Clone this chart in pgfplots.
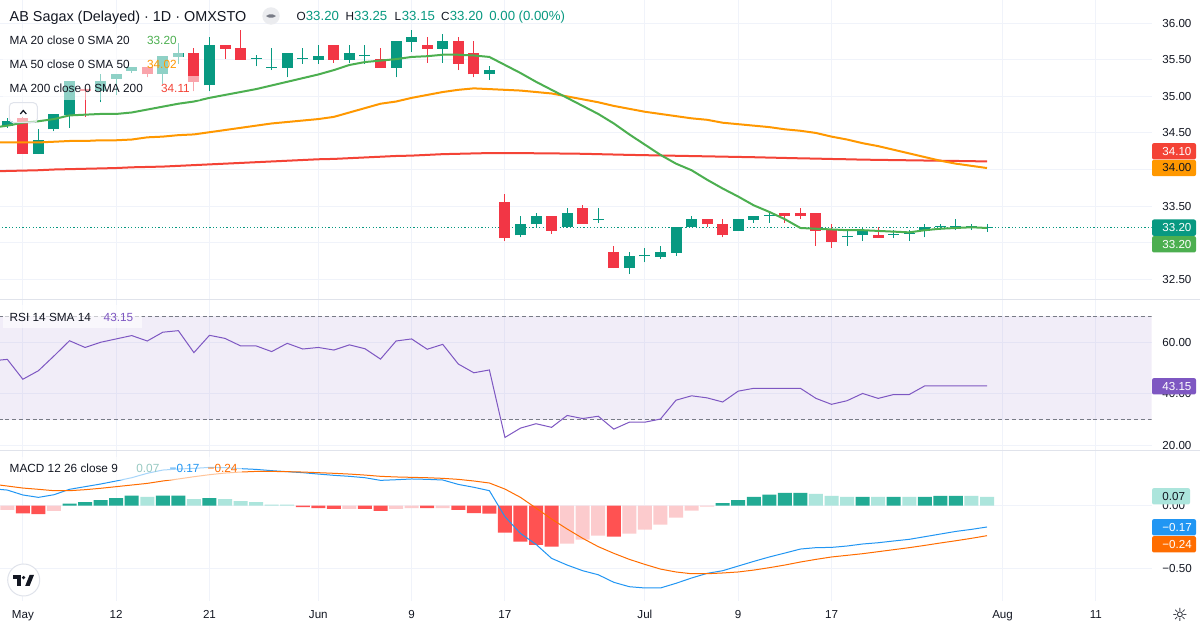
\documentclass[border=0pt]{standalone}
\usepackage{fontspec}
\setmainfont{Liberation Sans}
\newfontfamily\symfont{DejaVu Sans}
\usepackage{pgfplots}
\usepackage{pgfplotstable}
\pgfplotsset{compat=1.18}

\definecolor{tvup}{HTML}{089981}
\definecolor{tvdown}{HTML}{F23645}
\definecolor{cma20}{HTML}{4CAF50}
\definecolor{cma50}{HTML}{FF9800}
\definecolor{cma200}{HTML}{F44336}
\definecolor{crsi}{HTML}{7E57C2}
\definecolor{cmacd}{HTML}{2196F3}
\definecolor{csig}{HTML}{FF6D00}
\definecolor{hup}{HTML}{22AB94}
\definecolor{hupl}{HTML}{ACE5DC}
\definecolor{hdn}{HTML}{FF5252}
\definecolor{hdnl}{HTML}{FCCBCD}
\definecolor{gridc}{HTML}{F0F3FA}
\definecolor{sepc}{HTML}{E0E3EB}
\definecolor{txt}{HTML}{131722}
\definecolor{lvl}{HTML}{787B86}
\definecolor{btn}{HTML}{EBECEF}

\newcommand{\axf}{\fontsize{5.8}{7}\selectfont}
\newcommand{\lgf}{\fontsize{5.9}{7}\selectfont}
\newcommand{\ttf}{\fontsize{7.2}{8.6}\selectfont}
\newcommand{\hdf}{\fontsize{6.6}{8}\selectfont}
\newcommand{\hlf}{\fontsize{5.9}{8}\selectfont}

% candles: j o h l c
\pgfplotstableread{
j o h l c
0 34.60 34.70 34.57 34.66
2 34.21 34.55 34.21 34.41
3 34.55 34.76 34.52 34.76
4 34.75 35.21 34.57 35.21
6 35.07 35.30 34.92 35.21
7 35.24 35.31 35.02 35.31
8 35.35 35.40 35.32 35.40
10 35.30 35.55 35.17 35.55
11 35.54 35.73 35.45 35.60
13 35.15 35.81 35.07 35.70
16 35.51 35.57 35.41 35.51
17 35.39 35.66 35.36 35.39
18 35.39 35.60 35.26 35.60
19 35.51 35.66 35.45 35.51
20 35.50 35.70 35.45 35.55
22 35.50 35.70 35.46 35.60
23 35.55 35.70 35.45 35.55
25 35.39 35.76 35.26 35.76
26 35.75 35.91 35.61 35.81
28 35.65 35.85 35.46 35.76
31 35.30 35.41 35.23 35.36
33 33.10 33.37 33.07 33.26
34 33.25 33.41 33.22 33.37
36 33.22 33.47 33.22 33.41
38 33.31 33.47 33.27 33.31
40 32.65 32.87 32.57 32.81
41 32.81 32.92 32.73 32.81
42 32.80 32.96 32.78 32.87
43 32.86 33.22 32.82 33.22
44 33.21 33.37 33.21 33.32
47 33.16 33.32 33.16 33.32
48 33.31 33.37 33.27 33.37
49 33.37 33.41 33.27 33.37
54 33.07 33.17 32.96 33.07
55 33.10 33.22 33.02 33.17
57 33.11 33.17 33.06 33.11
58 33.12 33.17 33.02 33.12
59 33.16 33.26 33.07 33.22
60 33.22 33.26 33.17 33.22
61 33.21 33.32 33.17 33.21
62 33.22 33.26 33.17 33.22
63 33.20 33.25 33.15 33.20
}\upc

\pgfplotstableread{
j o h l c
1 34.70 34.72 34.21 34.21
5 35.10 35.11 34.72 35.07
9 35.40 35.40 35.26 35.30
12 35.60 35.66 35.07 35.20
14 35.70 35.70 35.51 35.65
15 35.66 35.91 35.50 35.50
21 35.70 35.70 35.46 35.50
24 35.51 35.66 35.39 35.39
27 35.70 35.81 35.46 35.65
29 35.76 35.81 35.36 35.45
30 35.60 35.76 35.26 35.30
32 33.56 33.66 33.02 33.06
35 33.37 33.37 33.12 33.16
37 33.47 33.51 33.26 33.26
39 32.87 32.96 32.65 32.65
45 33.32 33.32 33.22 33.25
46 33.26 33.32 33.07 33.10
50 33.41 33.41 33.27 33.36
51 33.41 33.47 33.32 33.36
52 33.41 33.41 32.96 33.16
53 33.17 33.26 32.93 33.01
56 33.11 33.22 33.06 33.06
}\dnc

% moving averages
\pgfplotstableread{
j s20 s50 s200
-1 34.57 34.37 33.975
0 34.60 34.37 33.98
1 34.64 34.37 33.985
2 34.66 34.37 33.99
3 34.69 34.38 34.00
4 34.74 34.39 34.005
5 34.75 34.39 34.01
6 34.76 34.40 34.015
7 34.76 34.40 34.02
8 34.78 34.41 34.03
9 34.82 34.44 34.035
10 34.86 34.45 34.04
11 34.90 34.47 34.05
12 34.93 34.48 34.06
13 34.98 34.51 34.07
14 35.02 34.54 34.08
15 35.06 34.57 34.09
16 35.10 34.60 34.10
17 35.15 34.63 34.11
18 35.20 34.65 34.12
19 35.25 34.67 34.13
20 35.30 34.69 34.14
21 35.36 34.72 34.145
22 35.43 34.78 34.155
23 35.47 34.84 34.165
24 35.49 34.90 34.175
25 35.51 34.93 34.185
26 35.54 34.98 34.19
27 35.55 35.02 34.20
28 35.57 35.06 34.21
29 35.57 35.09 34.215
30 35.56 35.11 34.22
31 35.54 35.10 34.225
32 35.43 35.09 34.225
33 35.32 35.08 34.225
34 35.20 35.06 34.222
35 35.09 35.04 34.22
36 34.98 35.00 34.218
37 34.87 34.96 34.215
38 34.76 34.92 34.21
39 34.63 34.87 34.205
40 34.48 34.83 34.20
41 34.34 34.79 34.196
42 34.20 34.76 34.192
43 34.08 34.73 34.188
44 33.99 34.70 34.184
45 33.86 34.68 34.18
46 33.74 34.64 34.176
47 33.63 34.62 34.172
48 33.51 34.60 34.168
49 33.42 34.58 34.163
50 33.32 34.55 34.158
51 33.20 34.53 34.153
52 33.19 34.50 34.149
53 33.18 34.45 34.144
54 33.17 34.41 34.14
55 33.17 34.36 34.135
56 33.16 34.32 34.132
57 33.15 34.27 34.129
58 33.14 34.22 34.126
59 33.17 34.17 34.123
60 33.19 34.12 34.12
61 33.20 34.08 34.117
62 33.21 34.05 34.114
63 33.20 34.02 34.11
}\mas

% RSI 14
\pgfplotstableread{
j r
-1 52.8
0 53.4
1 45.7
2 49.0
3 54.7
4 60.6
5 58.0
6 60.0
7 61.3
8 62.6
9 60.5
10 63.9
11 64.5
12 56.0
13 62.7
14 61.5
15 58.6
16 58.6
17 56.4
18 59.6
19 57.4
20 58.0
21 57.0
22 59.0
23 57.5
24 53.5
25 60.5
26 61.3
27 57.3
28 59.2
29 51.6
30 48.2
31 49.3
32 23.2
33 26.8
34 28.5
35 27.1
36 31.7
37 30.5
38 31.4
39 26.4
40 29.1
41 29.1
42 30.3
43 37.6
44 39.3
45 38.5
46 36.9
47 41.1
48 42.2
49 42.2
50 42.2
51 42.2
52 38.3
53 36.0
54 37.4
55 40.2
56 38.3
57 39.8
58 39.8
59 43.15
60 43.15
61 43.15
62 43.15
63 43.15
}\rsitab

% MACD 12 26 9: macd line, signal line
\pgfplotstableread{
j m s
-1 0.135 0.172
0 0.124 0.156
1 0.085 0.140
2 0.066 0.130
3 0.087 0.119
4 0.130 0.119
5 0.151 0.127
6 0.172 0.138
7 0.196 0.151
8 0.222 0.164
9 0.257 0.177
10 0.283 0.196
11 0.291 0.212
12 0.296 0.230
13 0.304 0.246
14 0.302 0.259
15 0.294 0.267
16 0.288 0.272
17 0.278 0.272
18 0.270 0.270
19 0.262 0.267
20 0.251 0.262
21 0.241 0.257
22 0.233 0.251
23 0.222 0.243
24 0.201 0.233
25 0.206 0.228
26 0.212 0.225
27 0.209 0.222
28 0.204 0.217
29 0.169 0.209
30 0.146 0.196
31 0.119 0.180
32 -0.087 0.132
33 -0.220 0.066
34 -0.307 -0.019
35 -0.418 -0.106
36 -0.471 -0.185
37 -0.516 -0.259
38 -0.548 -0.325
39 -0.608 -0.378
40 -0.643 -0.426
41 -0.653 -0.466
42 -0.653 -0.503
43 -0.616 -0.526
44 -0.574 -0.540
45 -0.537 -0.540
46 -0.516 -0.534
47 -0.479 -0.526
48 -0.442 -0.511
49 -0.407 -0.492
50 -0.376 -0.471
51 -0.344 -0.447
52 -0.333 -0.426
53 -0.331 -0.407
54 -0.320 -0.394
55 -0.304 -0.381
56 -0.294 -0.365
57 -0.280 -0.349
58 -0.267 -0.333
59 -0.246 -0.315
60 -0.225 -0.296
61 -0.204 -0.278
62 -0.188 -0.259
63 -0.169 -0.238
}\macdtab

\pgfplotsset{
  pane/.style={scale only axis, width=575.85pt, anchor=south west,
    xmin=-0.47, xmax=73.59,
    axis line style={draw=none}, major tick length=0pt,
    xtick={1,7,13,20,26,32,41,47,53,64,70}, xticklabels={},
    grid=major, major grid style={draw=gridc, line width=0.5pt},
    yticklabel pos=right,
    yticklabel style={anchor=west, inner sep=0pt, xshift=5.15pt, font=\axf, text=txt}},
  candlewick/.style={draw=none, no marks,
    error bars/.cd, y dir=plus, y explicit, error mark=none,
    error bar style={draw=#1, line width=0.5pt}},
  candlebody/.style={draw=none, no marks,
    error bars/.cd, y dir=plus, y explicit, error mark=none,
    error bar style={draw=#1, line width=5.5pt}},
  hist/.style={ybar, bar width=7pt, bar shift=0pt, draw=none, fill=#1},
}

\newcommand{\pricetag}[5]{% y, fill, text colour, text, right edge
  \fill[#2, rounded corners=1pt] (1152,#1-8.2) rectangle (#5,#1+8.2);
  \node[anchor=west, inner sep=0pt, text=#3, font=\axf] at (1162,#1) {#4};}

\begin{document}
\begin{tikzpicture}
\useasboundingbox (0,0) rectangle (600pt,315pt);
\fill[white] (0,0) rectangle (600pt,315pt);

% ---------- price pane ----------
\begin{axis}[pane, at={(0pt,165pt)}, height=150pt, ymin=32.215, ymax=36.319,
  ytick={32.5,33,33.5,34,34.5,35,35.5,36},
  yticklabels={32.50,33.00,33.50,34.00,34.50,35.00,35.50,36.00}]
\addplot[tvup, line width=0.5pt, dash pattern=on 0.6pt off 1.1pt] coordinates {(-1,33.2) (80,33.2)};
\addplot[candlewick=tvup] table[x=j, y=l, y error plus expr=\thisrow{h}-\thisrow{l}] {\upc};
\addplot[candlebody=tvup] table[x=j, y=o, y error plus expr={max(\thisrow{c}-\thisrow{o},0.014)}] {\upc};
\addplot[candlewick=tvdown] table[x=j, y=l, y error plus expr=\thisrow{h}-\thisrow{l}] {\dnc};
\addplot[candlebody=tvdown] table[x=j, y=c, y error plus expr=\thisrow{o}-\thisrow{c}] {\dnc};
\addplot[cma200, line width=1pt] table[x=j, y=s200] {\mas};
\addplot[cma50, line width=1pt] table[x=j, y=s50] {\mas};
\addplot[cma20, line width=1pt] table[x=j, y=s20] {\mas};
\end{axis}

% ---------- RSI pane ----------
\begin{axis}[pane, at={(0pt,89.5pt)}, height=75.5pt, ymin=17.95, ymax=76.36,
  ytick={20,40,60}, yticklabels={20.00,40.00,60.00}]
\addplot[draw=none, fill=crsi, fill opacity=0.1] coordinates {(-1,30) (80,30) (80,70) (-1,70)} -- cycle;
\addplot[lvl, line width=0.5pt, dash pattern=on 2pt off 1.4pt] coordinates {(-1,70) (80,70)};
\addplot[lvl, line width=0.5pt, dash pattern=on 2pt off 1.4pt] coordinates {(-1,30) (80,30)};
\addplot[crsi, line width=0.5pt] table[x=j, y=r] {\rsitab};
\end{axis}

% ---------- MACD pane ----------
\begin{axis}[pane, at={(0pt,14.5pt)}, height=75pt, ymin=-0.7563, ymax=0.4341,
  ytick={-0.5,0}, yticklabels={−0.50,0.00},
  xticklabels={May,12,21,Jun,9,17,Jul,9,17,Aug,11},
  xticklabel style={font=\axf, text=txt, anchor=base, inner sep=0pt, yshift=-8.6pt}]
\addplot[hist=hup] coordinates {(4,0.016)(5,0.029)(6,0.045)(7,0.061)(8,0.079)(10,0.079)(11,0.079)(13,0.061)
  (46,0.021)(47,0.045)(48,0.069)(49,0.087)(50,0.101)(51,0.101)(55,0.069)(57,0.069)(59,0.069)(60,0.077)(61,0.077)};
\addplot[hist=hupl] coordinates {(9,0.069)(12,0.053)(14,0.053)(15,0.037)(16,0.029)(17,0.008)(18,0.008)
  (52,0.093)(53,0.077)(54,0.069)(56,0.069)(58,0.069)(62,0.077)(63,0.070)};
\addplot[hist=hdn] coordinates {(1,-0.061)(2,-0.066)(19,-0.011)(20,-0.019)(21,-0.026)(23,-0.026)(24,-0.042)
  (27,-0.019)(29,-0.034)(30,-0.058)(31,-0.063)(32,-0.214)(33,-0.286)(34,-0.310)(35,-0.325)(39,-0.246)};
\addplot[hist=hdnl] coordinates {(0,-0.034)(3,-0.042)(22,-0.026)(25,-0.026)(26,-0.019)(28,-0.019)
  (36,-0.302)(37,-0.270)(38,-0.238)(40,-0.222)(41,-0.190)(42,-0.151)(43,-0.095)(44,-0.040)(45,-0.008)};
\addplot[cmacd, line width=0.5pt] table[x=j, y=m] {\macdtab};
\addplot[csig, line width=0.5pt] table[x=j, y=s] {\macdtab};
\end{axis}

% ---------- overlays, in pixel units of the 1200x630 frame ----------
\begin{scope}[x=0.5pt, y=-0.5pt, shift={(0pt,315pt)}]
\draw[sepc, line width=0.5pt] (0,300) -- (1200,300);
\draw[sepc, line width=0.5pt] (0,451) -- (1200,451);

% legend backgrounds
\fill[white, opacity=0.55] (3,28) rectangle (183,52);
\fill[white, opacity=0.55] (3,52) rectangle (183,76);
\fill[white, opacity=0.55] (3,76) rectangle (200,100);
\fill[white, opacity=0.6] (3,305) rectangle (142,328);
\fill[white, opacity=0.6] (3,457) rectangle (242,480);

% title row
\node[anchor=base west, inner sep=0pt, font=\ttf, text=txt] at (9.3,21.7) {AB Sagax (Delayed) · 1D · OMXSTO};
\fill[btn] (271,16) circle (8.7);
\fill[lvl, rounded corners=1.2] (266.7,14.5) rectangle (275.3,17.6);
\begin{scope}[every node/.style={anchor=base west, inner sep=0pt}]
\node[text=txt, font=\hlf] at (296.3,20.7) {O};   \node[text=tvup, font=\hdf] at (305.5,20.7) {33.20};
\node[text=txt, font=\hlf] at (345.3,20.7) {H};   \node[text=tvup, font=\hdf] at (353.8,20.7) {33.25};
\node[text=txt, font=\hlf] at (394.3,20.7) {L};   \node[text=tvup, font=\hdf] at (401.5,20.7) {33.15};
\node[text=txt, font=\hlf] at (440.8,20.7) {C};   \node[text=tvup, font=\hdf] at (449.5,20.7) {33.20};
\node[text=tvup, font=\hdf] at (489,20.7) {0.00 (0.00\%)};
\end{scope}

% MA legends
\begin{scope}[every node/.style={anchor=base west, inner sep=0pt, font=\lgf}]
\node[text=txt] at (9.3,45) {MA 20 close 0 SMA 20};   \node[text=cma20] at (146.7,45) {33.20};
\node[text=txt] at (9.3,69) {MA 50 close 0 SMA 50};   \node[text=cma50] at (146.7,69) {34.02};
\node[text=txt] at (9.3,93) {MA 200 close 0 SMA 200}; \node[text=cma200] at (160.7,93) {34.11};
\node[text=txt] at (9.3,321.7) {RSI 14 SMA 14};       \node[text=crsi] at (103.3,321.7) {43.15};
\node[text=txt] at (9.3,472.7) {MACD 12 26 close 9};
\node[text=hupl!80!black!60!hupl] at (136,472.7) {0.07};
\node[text=cmacd] at (169.3,472.7) {−0.17};
\node[text=csig] at (207.3,472.7) {−0.24};
\end{scope}

% collapse button
\filldraw[fill=white, fill opacity=0.6, draw=sepc, line width=0.5pt, rounded corners=2] (9.3,102.7) rectangle (37.3,122.7);
\draw[txt, line width=0.6pt] (20.3,114) -- (23.3,110.5) -- (26.3,114);

% TradingView logo
\filldraw[fill=white, draw=sepc, line width=0.5pt] (23.7,580) circle (16);
\fill[txt] (12.7,575) rectangle (20.7,578.6);
\fill[txt] (16.7,575) rectangle (20.7,586);
\fill[txt] (23.6,577.6) circle (1.8);
\fill[txt] (25.2,586) -- (29.6,586) -- (34,575) -- (29.6,575) -- cycle;

% gear
\node[inner sep=0pt, text=txt, font=\symfont\fontsize{9}{9}\selectfont] at (1180,614.5) {☼};

% price scale tags
\pricetag{151.3}{cma200}{white}{34.10}{1196}
\pricetag{168}{cma50}{txt}{34.00}{1196}
\pricetag{227.7}{tvup}{white}{33.20}{1196}
\pricetag{244.3}{cma20}{white}{33.20}{1196}
\pricetag{386.3}{crsi}{white}{43.15}{1196}
\pricetag{496.3}{hupl}{txt}{0.07}{1190}
\pricetag{527.3}{cmacd}{white}{−0.17}{1196}
\pricetag{544.3}{csig}{white}{−0.24}{1196}
\end{scope}
\end{tikzpicture}
\end{document}
